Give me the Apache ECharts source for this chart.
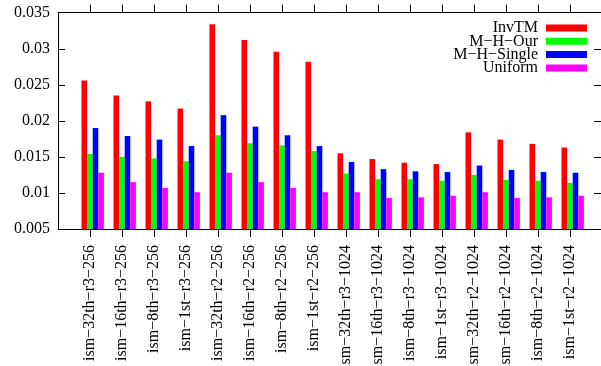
<!DOCTYPE html>
<html><head><meta charset="utf-8">
<script src="https://cdn.jsdelivr.net/npm/echarts@6/dist/echarts.min.js"></script>
<style>html,body{margin:0;padding:0;background:#fff}#c{width:601px;height:366px}</style>
</head><body><div id="c"></div>
<script>
const categories = [
  'ism−32th−r3−256','ism−16th−r3−256','ism−8th−r3−256','ism−1st−r3−256',
  'ism−32th−r2−256','ism−16th−r2−256','ism−8th−r2−256','ism−1st−r2−256',
  'ism−32th−r3−1024','ism−16th−r3−1024','ism−8th−r3−1024','ism−1st−r3−1024',
  'ism−32th−r2−1024','ism−16th−r2−1024','ism−8th−r2−1024','ism−1st−r2−1024'
];
const seriesNames = ['InvTM', 'M−H−Our', 'M−H−Single', 'Uniform'];
const invTM    = [0.0256, 0.0235, 0.0227, 0.0217, 0.0334, 0.0312, 0.0296, 0.0282, 0.0155, 0.0147, 0.0142, 0.0140, 0.0184, 0.0174, 0.0168, 0.0163];
const mhOur    = [0.0154, 0.0150, 0.0148, 0.0144, 0.0180, 0.0169, 0.0166, 0.0158, 0.0127, 0.0119, 0.0119, 0.0117, 0.0125, 0.0118, 0.0117, 0.0114];
const mhSingle = [0.0190, 0.0179, 0.0174, 0.0165, 0.0208, 0.0192, 0.0180, 0.0165, 0.0143, 0.0133, 0.0130, 0.0129, 0.0138, 0.0132, 0.0129, 0.0128];
const uniform  = [0.0128, 0.0115, 0.0107, 0.0101, 0.0128, 0.0115, 0.0107, 0.0101, 0.0101, 0.0093, 0.0094, 0.0096, 0.0101, 0.0093, 0.0094, 0.0096];
const yMin = 0.005, yMax = 0.035, yStep = 0.005;
const colors = ['#ff0000', '#00ff00', '#0000ff', '#ff00ff'];

const padded = [''].concat(categories, ['']);
const pad = arr => [null].concat(arr, [null]);
const font = 'Liberation Serif, Times New Roman, serif';
const tickFilter = (i, v) => v !== '';

const chart = echarts.init(document.getElementById('c'), null, {renderer: 'canvas'});
chart.setOption({
  animation: false,
  backgroundColor: '#fff',
  grid: [
    {left: 58, right: -1, top: 12.7, bottom: 137, outerBoundsMode: 'none', containLabel: false},
    {left: 60.7, right: -3.7, top: 12.7, bottom: 137, outerBoundsMode: 'none', containLabel: false}
  ],
  legend: {
    data: seriesNames, orient: 'vertical', right: 14, top: 20, align: 'right',
    itemWidth: 41, itemHeight: 7, itemGap: -2.7, icon: 'rect', padding: 0,
    textStyle: {fontFamily: font, fontSize: 16, color: '#000', padding: [0, 3, 0, 0]}
  },
  xAxis: [
    {type: 'category', gridIndex: 0, data: padded, boundaryGap: false,
     axisLine: {lineStyle: {color: '#000', width: 1}},
     axisTick: {interval: tickFilter, length: 8, lineStyle: {color: '#000'}},
     axisLabel: {interval: 0, rotate: 90, margin: 16, fontFamily: font, fontSize: 16, color: '#000'},
     splitLine: {show: false}},
    {type: 'category', gridIndex: 0, position: 'top', data: padded, boundaryGap: false,
     axisLine: {lineStyle: {color: '#000', width: 1}},
     axisTick: {interval: tickFilter, length: 8, lineStyle: {color: '#000'}},
     axisLabel: {show: false}, splitLine: {show: false}},
    {type: 'category', gridIndex: 1, data: padded, boundaryGap: false, show: false}
  ],
  yAxis: [
    {type: 'value', gridIndex: 0, min: yMin, max: yMax, interval: yStep,
     axisLine: {show: true, lineStyle: {color: '#000', width: 1}},
     axisTick: {show: true, inside: true, length: 7, lineStyle: {color: '#000'}},
     axisLabel: {margin: 8, fontFamily: font, fontSize: 16, color: '#000'},
     splitLine: {show: false}},
    {type: 'value', gridIndex: 0, position: 'right', min: yMin, max: yMax, interval: yStep,
     axisLine: {show: false},
     axisTick: {show: true, inside: true, length: 8, lineStyle: {color: '#000'}},
     axisLabel: {show: false}, splitLine: {show: false}},
    {type: 'value', gridIndex: 1, min: yMin, max: yMax, interval: yStep, show: false}
  ],
  series: [invTM, mhOur, mhSingle, uniform].map((d, i) => ({
    name: seriesNames[i], type: 'bar', xAxisIndex: 2, yAxisIndex: 2,
    data: pad(d), barWidth: 5.6, barGap: '0%',
    itemStyle: {color: colors[i]}
  }))
});
</script>
</body></html>
